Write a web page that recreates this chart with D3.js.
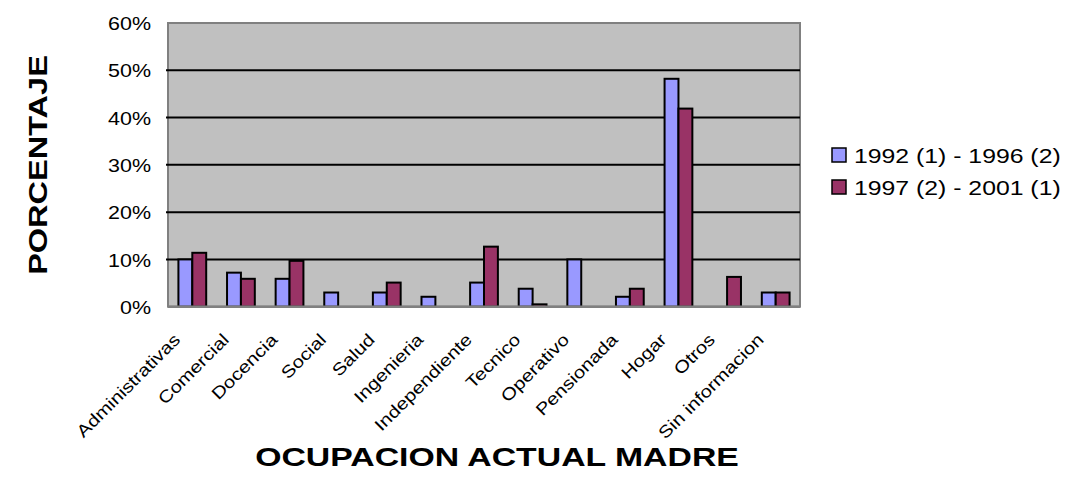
<!DOCTYPE html>
<html><head><meta charset="utf-8">
<script src="https://cdn.jsdelivr.net/npm/d3@7"></script>
<style>body{margin:0;background:#fff}svg{display:block}text{font-family:Arial,"Liberation Sans",sans-serif;fill:#000}</style>
</head><body>
<svg id="c" width="1068" height="499"></svg>
<script>
const categories = ["Administrativas","Comercial","Docencia","Social","Salud","Ingenieria","Independiente","Tecnico","Operativo","Pensionada","Hogar","Otros","Sin informacion"];
const seriesNames = ["1992 (1) - 1996 (2)", "1997 (2) - 2001 (1)"];
const series1 = [0.100,0.072,0.059,0.030,0.030,0.021,0.051,0.038,0.100,0.021,0.482,0,0.030];
const series2 = [0.114,0.059,0.097,0,0.051,0,0.127,0.005,0,0.038,0.419,0.063,0.030];
const yTicks = [0,0.1,0.2,0.3,0.4,0.5,0.6];
const colors = ["#9999FF","#993366"];

const svg = d3.select("#c");
const L=168, R=800, T=23, B=306.7;
const x = d3.scaleBand().domain(categories).range([L,R]);
const y = d3.scaleLinear().domain([0,0.6]).range([B,T]);
const bw = x.bandwidth()/3.5;

svg.append("rect").attr("x",L).attr("y",T).attr("width",R-L).attr("height",B-T).attr("fill","#C0C0C0").attr("stroke","#808080").attr("stroke-width",2);

// gridlines
svg.append("g").selectAll("line").data(yTicks.filter(d=>d>0&&d<0.6)).join("line")
  .attr("x1",L-2).attr("x2",R).attr("y1",d=>y(d)).attr("y2",d=>y(d)).attr("stroke","#000").attr("stroke-width",2);

// y axis
const ya = svg.append("g").attr("transform",`translate(${L},0)`).call(d3.axisLeft(y).tickValues(yTicks).tickFormat(d3.format(".0%")).tickSize(0).tickPadding(17));
ya.select(".domain").remove();
ya.selectAll("text").attr("font-size",19).attr("font-family","Arial, 'Liberation Sans', sans-serif").attr("fill","#000").attr("dy","0.35em")
  .attr("transform",function(){const xx=+d3.select(this).attr("x");return `translate(${xx},0) scale(1.13,1) translate(${-xx},0)`;});

// bars
const data = [series1, series2];
data.forEach((s,si)=>{
  svg.append("g").selectAll("rect").data(categories).join("rect")
    .filter((c,i)=>s[i]>0)
    .attr("x",c=>x(c)+x.bandwidth()/2-bw+si*bw)
    .attr("y",(c)=>y(s[categories.indexOf(c)]))
    .attr("width",bw)
    .attr("height",(c)=>B-y(s[categories.indexOf(c)]))
    .attr("fill",colors[si]).attr("stroke","#000").attr("stroke-width",2);
});

// bottom axis line
svg.append("line").attr("x1",L).attr("x2",R).attr("y1",B).attr("y2",B).attr("stroke","#808080").attr("stroke-width",2.5);

// x labels
svg.append("g").selectAll("text").data(categories).join("text")
  .attr("transform",c=>`translate(${x(c)+x.bandwidth()/2-11},${B+34}) rotate(-45) scale(1.2,1)`)
  .attr("text-anchor","end").attr("font-size",17).text(c=>c);

// axis titles
svg.append("text").attr("transform","translate(497,466) scale(1.3,1)").attr("text-anchor","middle")
  .attr("font-size",26).attr("font-weight","bold").text("OCUPACION ACTUAL MADRE");
svg.append("text").attr("transform","translate(47,165) rotate(-90) scale(1.25,1)").attr("text-anchor","middle")
  .attr("font-size",26).attr("font-weight","bold").text("PORCENTAJE");

// legend
const lg = svg.append("g").selectAll("g").data(seriesNames).join("g")
  .attr("transform",(d,i)=>`translate(832,${148+i*32})`);
lg.append("rect").attr("width",14).attr("height",14).attr("fill",(d,i)=>colors[i]).attr("stroke","#000").attr("stroke-width",1.5);
lg.append("text").attr("transform","translate(22,14.5) scale(1.24,1)").attr("font-size",20).text(d=>d);
</script>
</body></html>
